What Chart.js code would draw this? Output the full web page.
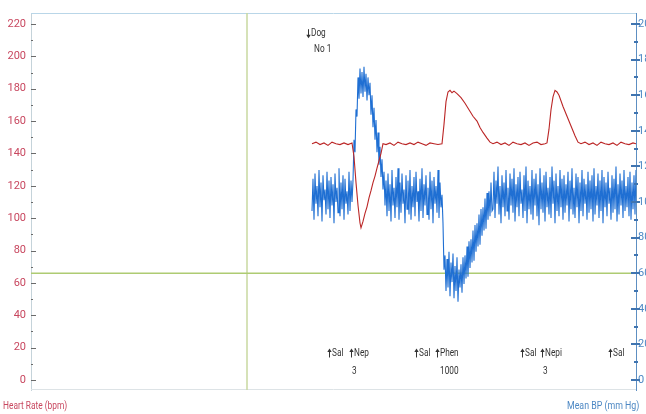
<!DOCTYPE html>
<html><head><meta charset="utf-8">
<script src="https://cdn.jsdelivr.net/npm/chart.js@4/dist/chart.umd.min.js"></script>
<style>html,body{margin:0;padding:0;background:#fff;overflow:hidden}#wrap{width:646px;height:414px;position:relative}</style>
</head><body><div id="wrap"><canvas id="c" width="646" height="414"></canvas></div>
<script>
// ---- data (time in seconds, arbitrary origin) ----
const heartRateTicks = [0,20,40,60,80,100,120,140,160,180,200,220];
const bpTicks = [0,20,40,60,80,100,120,140,160,180,200];

const hrTimes = [281,285,289,293,297,301,305,309,313,317,321,323,325,327,329,330,332,334,336,338,340,342,344,346,348,350,352,355,359,363,367,371,375,379,383,387,391,395,399,403,407,411,413,415,417,419,421,423,426,430,434,438,442,446,449,452,456,459,462,466,470,474,478,482,486,490,494,498,502,506,510,514,516,518,520,522,524,526,528,532,536,540,544,547,550,554,558,562,566,570,574,578,582,586,590,594,598,602,605];
const heartRate = [146,147,145.5,146.5,145,147,146,145.5,146.5,145.5,146.5,138,122,108,97,94,98,103,107,112.5,117,122,126,131,135.5,140,146,145.5,146.5,145,147,146,145.5,146.5,145.5,147,146,145,146.5,146,145.5,146,158,172,178,179,177.5,178.5,177,174.5,171,167,163,160,156,153,149.5,147,146,147,145.5,146.5,145,147,146,145.5,146.5,145,146.5,147,145.5,146,146.5,155,167,175,179,178,176,169,163,157,151,147,146,147,145.5,146.5,145,147,146,145.5,146.5,145,147,146,145.5,146.5,146];

const bpTimes = [
 281,282,283,284,285,286,287,288,289,290,291,292,293,294,295,296,297,298,299,300,
 301,302,303,304,305,306,307,308,309,310,311,312,313,314,315,316,317,318,319,320,
 321,322,323,324,325,326,327,328,329,330,331,332,333,334,335,336,337,338,339,340,
 341,342,343,344,345,346,347,348,349,350,351,352,353,354,355,356,357,358,359,360,
 361,362,363,364,365,366,367,368,369,370,371,372,373,374,375,376,377,378,379,380,
 381,382,383,384,385,386,387,388,389,390,391,392,393,394,395,396,397,398,399,400,
 401,402,403,404,405,406,407,408,409,410,411,412,413,414,415,416,417,418,419,420,
 421,422,423,424,425,426,427,428,429,430,431,432,433,434,435,436,437,438,439,440,
 441,442,443,444,445,446,447,448,449,450,451,452,453,454,455,456,457,458,459,460,
 461,462,463,464,465,466,467,468,469,470,471,472,473,474,475,476,477,478,479,480,
 481,482,483,484,485,486,487,488,489,490,491,492,493,494,495,496,497,498,499,500,
 501,502,503,504,505,506,507,508,509,510,511,512,513,514,515,516,517,518,519,520,
 521,522,523,524,525,526,527,528,529,530,531,532,533,534,535,536,537,538,539,540,
 541,542,543,544,545,546,547,548,549,550,551,552,553,554,555,556,557,558,559,560,
 561,562,563,564,565,566,567,568,569,570,571,572,573,574,575,576,577,578,579,580,
 581,582,583,584,585,586,587,588,589,590,591,592,593,594,595,596,597,598,599,600,
 601,602,603,604,605];
const meanBP = [
 95,113,90,116,99,109,92,118,97,111,89,115,101,107,93,117,96,112,91,114,
 98,110,88,116,100,108,94,119,92,111,96,115,90,113,99,106,93,117,95,112,100,
 112,135,128,152,148,170,158,175,161,173,159,176,162,172,157,170,160,
 167,149,160,142,153,135,146,128,139,121,131,114,124,107,117,98,112,
 92,116,95,110,89,118,98,108,91,114,97,119,90,111,94,116,99,107,88,115,
 96,112,93,118,90,109,97,114,92,117,100,106,89,113,95,119,91,110,98,115,
 93,108,90,117,96,112,88,114,99,109,94,118,91,111,97,104,
 88,62,70,50,68,52,72,47,66,55,71,46,64,50,69,44,62,52,
 65,49,69,54,70,57,75,58,78,63,79,66,84,67,87,72,88,75,93,76,96,81,97,84,102,85,105,90,106,92,111,95,
 96,117,91,112,99,120,93,109,88,115,97,111,92,118,95,108,90,116,98,113,
 94,119,89,110,97,114,92,117,99,107,91,115,95,120,88,112,96,109,93,118,
 90,113,98,116,92,110,87,119,96,111,94,115,89,117,97,108,93,114,91,120,
 99,112,88,116,95,109,92,118,97,113,90,115,94,110,98,117,89,112,96,119,
 93,108,91,116,97,114,88,111,95,118,92,113,99,110,90,117,94,112,96,115,
 89,119,93,109,98,116,91,112,95,118,88,114,97,111,92,117,99,108,90,115,
 94,113,96,120,89,110,93,116,98,112,91,118,95,109,97,114,92,117,90,111,
 96,115,93,118
];

const markerTime = 216;   // vertical reference line
const refBP = 60;         // horizontal reference line (mm Hg)

const eventTimes = [298,320,385,406,491,511,579];
const eventLabels = ['Sal','Nep','Sal','Phen','Sal','Nepi','Sal'];
const doseTimes = [321,409,512];
const doseLabels = ['3','1000','3'];
const dogTime = 277;
const dogLabels = ['Dog','No 1'];

const FONT = 'Roboto, "Liberation Sans", sans-serif';

// draw text horizontally condensed by factor k
function narrowText(ctx, str, x, y, k, align) {
  ctx.save();
  ctx.translate(x, y);
  ctx.scale(k, 1);
  ctx.textAlign = align || 'left';
  ctx.fillText(str, 0, 0);
  ctx.restore();
}
function arrowMark(ctx, x, y, up) {
  const d = up ? -1 : 1;
  ctx.save();
  ctx.strokeStyle = ctx.fillStyle; ctx.lineWidth = 1;
  const xs = Math.round(x) + 0.5;
  ctx.beginPath(); ctx.moveTo(xs, y - d * 4.5); ctx.lineTo(xs, y + d * 2); ctx.stroke();
  ctx.beginPath(); ctx.moveTo(xs - 2.2, y + d * 1); ctx.lineTo(xs, y + d * 4.5); ctx.lineTo(xs + 2.2, y + d * 1); ctx.closePath(); ctx.fill();
  ctx.restore();
}
function arrowLabel(ctx, up, str, x, y, k) {
  arrowMark(ctx, x, y, up);
  narrowText(ctx, str, x + 3, y, k, 'left');
}

// ---- chart ----
const HR_MIN = -6.18, HR_MAX = 226.8, BP_MIN = -5.62, BP_MAX = 206.18;

const decorPlugin = {
  id: 'decor',
  beforeDatasetsDraw(chart) {
    const {ctx, chartArea: a} = chart;
    ctx.save();
    ctx.lineWidth = 1;
    ctx.strokeStyle = '#b9d6e8';
    ctx.beginPath(); ctx.moveTo(a.left, a.top + 0.5); ctx.lineTo(a.right, a.top + 0.5); ctx.stroke();
    ctx.strokeStyle = '#dde3e6';
    ctx.beginPath(); ctx.moveTo(a.left, a.bottom - 0.5); ctx.lineTo(a.right, a.bottom - 0.5); ctx.stroke();
    ctx.restore();
  },
  afterDraw(chart) {
    const {ctx, chartArea: a, scales} = chart;
    const yL = scales.yL, yR = scales.yR, x = scales.x;
    ctx.save();
    ctx.strokeStyle = '#6a6a6a'; ctx.lineWidth = 1;
    for (let v = 0; v <= 220; v += 10) {
      const py = Math.round(yL.getPixelForValue(v)) + 0.5;
      const len = v % 20 === 0 ? 5 : 2;
      ctx.beginPath(); ctx.moveTo(a.left, py); ctx.lineTo(a.left + len, py); ctx.stroke();
    }
    ctx.strokeStyle = '#3f74b0'; ctx.lineWidth = 2;
    for (let v = 0; v <= 200; v += 10) {
      const py = Math.round(yR.getPixelForValue(v));
      const major = v % 20 === 0;
      ctx.beginPath(); ctx.moveTo(a.right - (major ? 5 : 2), py); ctx.lineTo(a.right + (major ? 4 : 2), py); ctx.stroke();
    }
    const k = 0.75;
    ctx.fillStyle = '#333333';
    ctx.font = '11px ' + FONT;
    ctx.textBaseline = 'middle';
    const y1 = yL.getPixelForValue(16.7), y2 = yL.getPixelForValue(5.6);
    eventTimes.forEach((t, i) => arrowLabel(ctx, true, eventLabels[i], x.getPixelForValue(t), y1, k));
    doseTimes.forEach((t, i) => narrowText(ctx, doseLabels[i], x.getPixelForValue(t), y2, k));
    arrowLabel(ctx, false, dogLabels[0], x.getPixelForValue(dogTime), yL.getPixelForValue(214), k);
    narrowText(ctx, dogLabels[1], x.getPixelForValue(dogTime + 6), yL.getPixelForValue(204.5), k);
    ctx.font = '11px ' + FONT;
    ctx.fillStyle = '#c8475f';
    narrowText(ctx, 'Heart Rate (bpm)', 3, 406, 0.76, 'left');
    ctx.fillStyle = '#4d88c4';
    narrowText(ctx, 'Mean BP (mm Hg)', 567, 406, 0.8, 'left');
    ctx.restore();
  }
};

new Chart(document.getElementById('c'), {
  type: 'line',
  data: {
    datasets: [
      { label: 'marker', data: [{x: markerTime, y: HR_MIN}, {x: markerTime, y: HR_MAX}], yAxisID: 'yL',
        borderColor: '#c8d9a0', borderWidth: 1.5, pointRadius: 0, order: 5 },
      { label: 'ref', data: [{x: 0, y: refBP}, {x: 605, y: refBP}], yAxisID: 'yR',
        borderColor: '#aecb72', borderWidth: 1.5, pointRadius: 0, order: 4 },
      { label: 'Mean BP (mm Hg)', data: bpTimes.map((t, i) => ({x: t, y: meanBP[i]})), yAxisID: 'yR',
        borderColor: '#1f6fd3', borderWidth: 1.1, pointRadius: 0, tension: 0, order: 2 },
      { label: 'Heart Rate (bpm)', data: hrTimes.map((t, i) => ({x: t, y: heartRate[i]})), yAxisID: 'yL',
        borderColor: '#bb2626', borderWidth: 1.1, pointRadius: 0, tension: 0, order: 1 }
    ]
  },
  options: {
    responsive: false, animation: false, devicePixelRatio: 1,
    layout: { padding: { top: 13, bottom: 24, left: 0, right: 0 } },
    plugins: { legend: { display: false }, tooltip: { enabled: false } },
    scales: {
      x: { type: 'linear', min: 0, max: 605, display: false },
      yL: {
        position: 'left', min: HR_MIN, max: HR_MAX,
        afterBuildTicks: s => { s.ticks = heartRateTicks.map(v => ({value: v})); },
        afterFit: s => { s.width = 31; },
        grid: { display: false, drawTicks: false },
        border: { display: true, color: '#c5d3da', width: 1 },
        ticks: { color: '#c8475f', font: { family: FONT, size: 11 }, padding: 5 }
      },
      yR: {
        position: 'right', min: BP_MIN, max: BP_MAX,
        afterBuildTicks: s => { s.ticks = bpTicks.map(v => ({value: v})); },
        afterFit: s => { s.width = 10; },
        grid: { display: false, drawTicks: false },
        border: { display: true, color: '#5d8fc2', width: 1 },
        ticks: { color: '#4d88c4', font: { family: FONT, size: 11 }, padding: 2 }
      }
    }
  },
  plugins: [decorPlugin]
});
</script>
</body></html>
